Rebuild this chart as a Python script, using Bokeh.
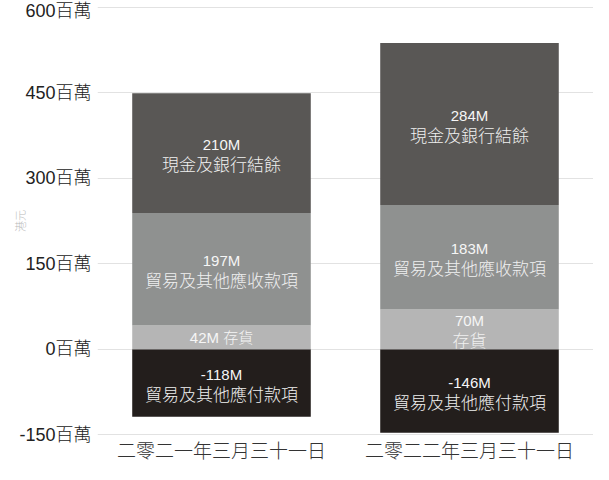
from bokeh.plotting import figure
from bokeh.models import ColumnDataSource, FixedTicker, Range1d
from bokeh.core.properties import value
from bokeh.embed import file_html
from bokeh.resources import INLINE

categories = ["二零二一年三月三十一日", "二零二二年三月三十一日"]
payables = [-118, -146]
inventory = [42, 70]
receivables = [197, 183]
cash = [210, 284]

payables_values = ["-118M", "-146M"]
payables_names = ["貿易及其他應付款項", "貿易及其他應付款項"]
inventory_values = ["42M 存貨", "70M"]
inventory_names = ["", "存貨"]
receivables_values = ["197M", "183M"]
receivables_names = ["貿易及其他應收款項", "貿易及其他應收款項"]
cash_values = ["210M", "284M"]
cash_names = ["現金及銀行結餘", "現金及銀行結餘"]

y_ticks = [-150, 0, 150, 300, 450, 600]
tick_suffix = "百萬"

colors = {"payables": "#231e1c", "inventory": "#b5b5b5",
          "receivables": "#8f9190", "cash": "#595755"}

LAT = "Liberation Sans, Noto Sans CJK TC Light, Noto Sans CJK TC"
CJK = "Noto Sans CJK TC Light, Noto Sans CJK TC"

p = figure(x_range=categories, y_range=Range1d(-151, 601), width=593, height=464,
           output_backend="svg", toolbar_location=None,
           min_border_left=97, min_border_right=0, min_border_top=6, min_border_bottom=0)
p.outline_line_color = None
p.background_fill_color = "white"

inv_top = [i for i in inventory]
rec_top = [i + r for i, r in zip(inventory, receivables)]
cash_top = [rt + c for rt, c in zip(rec_top, cash)]
segments = [
    ("payables", payables, [0, 0], payables_values, payables_names),
    ("inventory", [0, 0], inv_top, inventory_values, inventory_names),
    ("receivables", inv_top, rec_top, receivables_values, receivables_names),
    ("cash", rec_top, cash_top, cash_values, cash_names),
]

for name, bottoms, tops, vals, names in segments:
    src = ColumnDataSource(dict(
        x=categories, bottom=bottoms, top=tops,
        mid=[(b + t) / 2 for b, t in zip(bottoms, tops)],
        val=vals, nm=names,
        voff=[-9 if n else 0 for n in names],
        noff=[10 for n in names]))
    p.vbar(x="x", bottom="bottom", top="top", width=0.72, source=src,
           fill_color=colors[name], line_color=None)
    p.text(x="x", y="mid", text="val", source=src, y_offset="voff",
           text_align="center", text_baseline="middle", text_color="#f6f6f6",
           text_font_size="15px", text_font=value(LAT))
    p.text(x="x", y="mid", text="nm", source=src, y_offset="noff",
           text_align="center", text_baseline="middle", text_color="#f0f0f0",
           text_font_size="17px", text_font=value(CJK))

p.yaxis.ticker = FixedTicker(ticks=y_ticks)
p.yaxis.major_label_overrides = {t: f"{t}{tick_suffix}" for t in y_ticks}
p.yaxis.axis_label = "港元"
p.yaxis.axis_label_text_font = CJK
p.yaxis.axis_label_text_font_size = "11px"
p.yaxis.axis_label_text_font_style = "normal"
p.yaxis.axis_label_text_color = "#bbbbbb"
p.yaxis.axis_label_standoff = -12
p.yaxis.major_label_text_font = LAT
p.yaxis.major_label_text_font_size = "18px"
p.yaxis.major_label_text_color = "#222222"
p.yaxis.major_label_standoff = 6

p.xaxis.major_label_text_font = LAT
p.xaxis.major_label_text_font_size = "19px"
p.xaxis.major_label_text_color = "#333333"
p.xaxis.major_label_standoff = 5

for ax in (p.xaxis, p.yaxis):
    ax.axis_line_color = None
    ax.major_tick_line_color = None
    ax.minor_tick_line_color = None
    ax.major_tick_out = 0
    ax.major_tick_in = 0
    ax.minor_tick_out = 0
    ax.minor_tick_in = 0

p.xgrid.grid_line_color = None
p.ygrid.grid_line_color = "#e2e2e2"
p.ygrid.grid_line_width = 1
p.ygrid.ticker = FixedTicker(ticks=y_ticks)

open("out.html", "w").write(file_html(p, INLINE))
